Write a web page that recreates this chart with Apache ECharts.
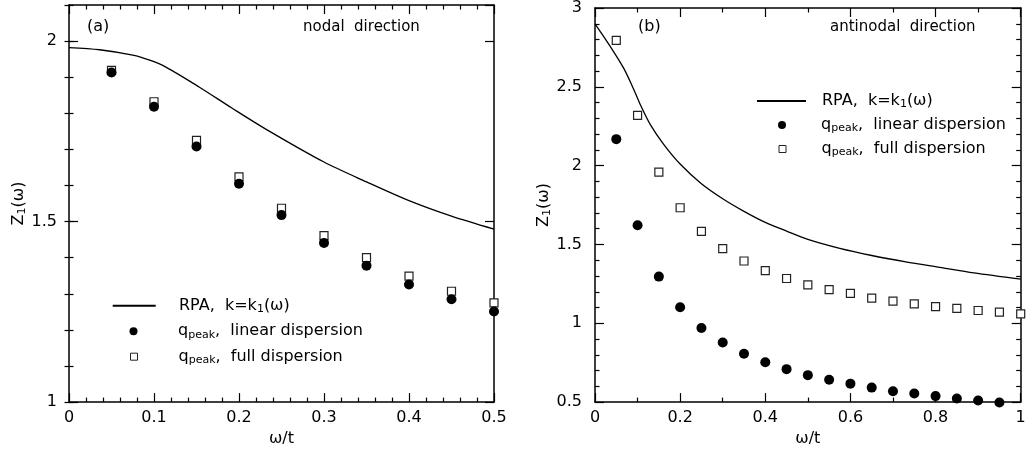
<!DOCTYPE html>
<html>
<head>
<meta charset="utf-8">
<title>Z1(omega) nodal / antinodal</title>
<script src="https://cdn.jsdelivr.net/npm/echarts@6/dist/echarts.min.js"></script>
<style>
  html, body { margin: 0; padding: 0; background: #fff; }
  #chart { width: 1034px; height: 452px; }
</style>
</head>
<body>
<div id="chart"></div>
<script>
// (a) nodal direction
const leftX = [0.05, 0.1, 0.15, 0.2, 0.25, 0.3, 0.35, 0.4, 0.45, 0.5]
const leftLinear = [1.913, 1.818, 1.708, 1.605, 1.518, 1.441, 1.378, 1.326, 1.285, 1.251]
const leftFull = [1.919, 1.832, 1.725, 1.624, 1.537, 1.461, 1.400, 1.349, 1.307, 1.275]
const leftRpaX = [0, 0.036, 0.075, 0.095, 0.114, 0.153, 0.192, 0.231, 0.3, 0.35, 0.4, 0.45, 0.5]
const leftRpaY = [1.982, 1.976, 1.961, 1.947, 1.928, 1.873, 1.814, 1.757, 1.665, 1.61, 1.558, 1.515, 1.479]

// (b) antinodal direction
const rightX = [0.05, 0.1, 0.15, 0.2, 0.25, 0.3, 0.35, 0.4, 0.45, 0.5,
  0.55, 0.6, 0.65, 0.7, 0.75, 0.8, 0.85, 0.9, 0.95, 1.0]
const rightLinear = [2.168, 1.622, 1.296, 1.102, 0.970, 0.878, 0.807, 0.753, 0.709, 0.671,
  0.642, 0.617, 0.592, 0.569, 0.554, 0.538, 0.523, 0.510, 0.498]
const rightFull = [2.795, 2.319, 1.959, 1.733, 1.583, 1.474, 1.395, 1.334, 1.284, 1.244,
  1.213, 1.190, 1.160, 1.140, 1.123, 1.106, 1.094, 1.081, 1.071, 1.060]
const rightRpaX = [0, 0.035, 0.067, 0.09, 0.106, 0.13, 0.16, 0.2, 0.25, 0.3, 0.35, 0.4, 0.45,
  0.5, 0.575, 0.65, 0.73, 0.81, 0.89, 1.0]
const rightRpaY = [2.90, 2.76, 2.62, 2.49, 2.39, 2.26, 2.14, 2.01, 1.885, 1.79, 1.71, 1.64, 1.585,
  1.532, 1.475, 1.43, 1.39, 1.355, 1.32, 1.28]

const FONT = 'DejaVu Sans'
const pairs = (xs, ys) => ys.map((y, i) => [xs[i], y])

const chart = echarts.init(document.getElementById('chart'))

// one bottom/top x axis pair per panel, ticks pointing inward
function xAxes(gridIndex, max, interval, minorSplit) {
  const base = {
    type: 'value',
    gridIndex: gridIndex,
    min: 0,
    max: max,
    interval: interval,
    splitLine: { show: false },
    axisLine: { onZero: false, lineStyle: { color: '#000', width: 1.5 } },
    axisTick: { inside: true, length: 9, lineStyle: { color: '#000', width: 1.2 } },
    minorTick: { show: true, splitNumber: minorSplit, length: 4.5, lineStyle: { color: '#000', width: 1.2 } }
  }
  return [
    Object.assign({}, base, {
      position: 'bottom',
      name: 'ω/t',
      nameLocation: 'middle',
      nameGap: 25,
      nameTextStyle: { fontFamily: FONT, fontSize: 16, color: '#000' },
      axisLabel: { margin: 8, fontFamily: FONT, fontSize: 16, color: '#000' }
    }),
    Object.assign({}, base, { position: 'top', axisLabel: { show: false } })
  ]
}

function yBase(gridIndex, min, max, interval) {
  return {
    type: 'value',
    gridIndex: gridIndex,
    min: min,
    max: max,
    interval: interval,
    splitLine: { show: false },
    axisLine: { onZero: false, lineStyle: { color: '#000', width: 1.5 } },
    axisTick: { inside: true, length: 9, lineStyle: { color: '#000', width: 1.2 } },
    axisLabel: { show: false }
  }
}

const yName = {
  name: '{t|Z}{s|1}{t|(ω)}',
  nameLocation: 'middle',
  nameGap: 39,
  nameTextStyle: {
    fontFamily: FONT,
    color: '#000',
    rich: {
      t: { fontFamily: FONT, fontSize: 16, lineHeight: 18, color: '#000' },
      s: { fontFamily: FONT, fontSize: 11, lineHeight: 10, verticalAlign: 'bottom', color: '#000' }
    }
  }
}

// left panel y: range 1..2.1, so minor ticks come from a second 0.1 axis
const yLeftMain = Object.assign(yBase(0, 1, 2.1, 0.5), yName, {
  position: 'left',
  axisLabel: { show: true, showMaxLabel: false, margin: 12, fontFamily: FONT, fontSize: 16, color: '#000' }
})
const yLeftMinor = Object.assign(yBase(0, 1, 2.1, 0.1), { position: 'left', axisLine: { show: false }, axisTick: { inside: true, length: 4.5, lineStyle: { color: '#000', width: 1.2 } } })
const yLeftMainR = Object.assign(yBase(0, 1, 2.1, 0.5), { position: 'right' })
const yLeftMinorR = Object.assign({}, yLeftMinor, { position: 'right' })

const minorY = { show: true, splitNumber: 5, length: 4.5, lineStyle: { color: '#000', width: 1.2 } }
const yRightMain = Object.assign(yBase(1, 0.5, 3, 0.5), yName, {
  position: 'left',
  minorTick: minorY,
  axisLabel: { show: true, margin: 13, fontFamily: FONT, fontSize: 16, color: '#000' }
})
const yRightMirror = Object.assign(yBase(1, 0.5, 3, 0.5), { position: 'right', minorTick: minorY })

const legendLabels = {
  rpa: '{t|RPA,  k=k}{s|1}{t|(ω)}',
  linear: '{t|q}{s|peak}{t|,  linear dispersion}',
  full: '{t|q}{s|peak}{t|,  full dispersion}'
}

// one legend per row so each icon keeps its own size
function legendRow(name, left, centerY, iconW, textLeft) {
  let item = name
  if (name === 'rpa') item = { name: name, itemStyle: { opacity: 0 } }
  if (name === 'full') item = { name: name, itemStyle: { borderWidth: 1 } }
  const gap = textLeft - (left + iconW + 5)
  return {
    data: [item],
    orient: 'vertical',
    left: left,
    top: centerY - 9,
    padding: 0,
    itemWidth: iconW,
    itemHeight: name === 'full' ? 7 : 8,
    selectedMode: false,
    formatter: n => '{g| }' + legendLabels[n],
    textStyle: {
      fontFamily: FONT,
      fontSize: 16,
      color: '#000',
      rich: {
        g: { width: gap, lineHeight: 18 },
        t: { fontFamily: FONT, fontSize: 16, lineHeight: 18, color: '#000' },
        s: { fontFamily: FONT, fontSize: 11, lineHeight: 10, verticalAlign: 'bottom', color: '#000' }
      }
    }
  }
}

function seriesFor(xi, yi, rpaX, rpaY, xs, full, linear) {
  return [
    {
      name: 'rpa',
      type: 'line',
      xAxisIndex: xi,
      yAxisIndex: yi,
      data: pairs(rpaX, rpaY),
      symbol: 'none',
      smooth: 0.3,
      lineStyle: { color: '#000', width: 1.3 },
      itemStyle: { color: '#000' }
    },
    {
      name: 'full',
      type: 'scatter',
      xAxisIndex: xi,
      yAxisIndex: yi,
      data: pairs(xs, full),
      clip: false,
      symbol: 'rect',
      symbolSize: 8,
      itemStyle: { color: '#fff', borderColor: '#222', borderWidth: 1.2, opacity: 1 }
    },
    {
      name: 'linear',
      type: 'scatter',
      xAxisIndex: xi,
      yAxisIndex: yi,
      data: pairs(xs, linear),
      clip: false,
      symbol: 'circle',
      symbolSize: 10,
      itemStyle: { color: '#000', opacity: 1 }
    }
  ]
}

chart.setOption({
  animation: false,
  backgroundColor: '#fff',
  grid: [
    { left: 69, width: 425, top: 5, height: 400.7 },
    { left: 595, width: 425.7, top: 5, height: 399.3 }
  ],
  xAxis: [].concat(xAxes(0, 0.5, 0.1, 5), xAxes(1, 1, 0.2, 2)),
  yAxis: [yLeftMain, yLeftMinor, yLeftMainR, yLeftMinorR, yRightMain, yRightMirror],
  legend: [
    legendRow('rpa', 111.7, 306.7, 43, 178),
    legendRow('linear', 129.5, 332.3, 8, 178),
    legendRow('full', 130, 357.7, 7, 178),
    legendRow('rpa', 756, 102, 49, 821),
    legendRow('linear', 778, 126, 8, 821),
    legendRow('full', 778.5, 150, 7, 821)
  ],
  graphic: [
    { type: 'text', x: 87, y: 27, style: { text: '(a)', font: '16px "DejaVu Sans"', fill: '#000', verticalAlign: 'middle' } },
    { type: 'text', x: 303, y: 27, style: { text: 'nodal  direction', font: '15px "DejaVu Sans"', fill: '#000', verticalAlign: 'middle' } },
    { type: 'text', x: 638, y: 27, style: { text: '(b)', font: '16px "DejaVu Sans"', fill: '#000', verticalAlign: 'middle' } },
    { type: 'text', x: 830, y: 27, style: { text: 'antinodal  direction', font: '15px "DejaVu Sans"', fill: '#000', verticalAlign: 'middle' } }
  ],
  series: [].concat(
    seriesFor(0, 0, leftRpaX, leftRpaY, leftX, leftFull, leftLinear),
    seriesFor(2, 4, rightRpaX, rightRpaY, rightX, rightFull, rightLinear)
  )
})
</script>
</body>
</html>
